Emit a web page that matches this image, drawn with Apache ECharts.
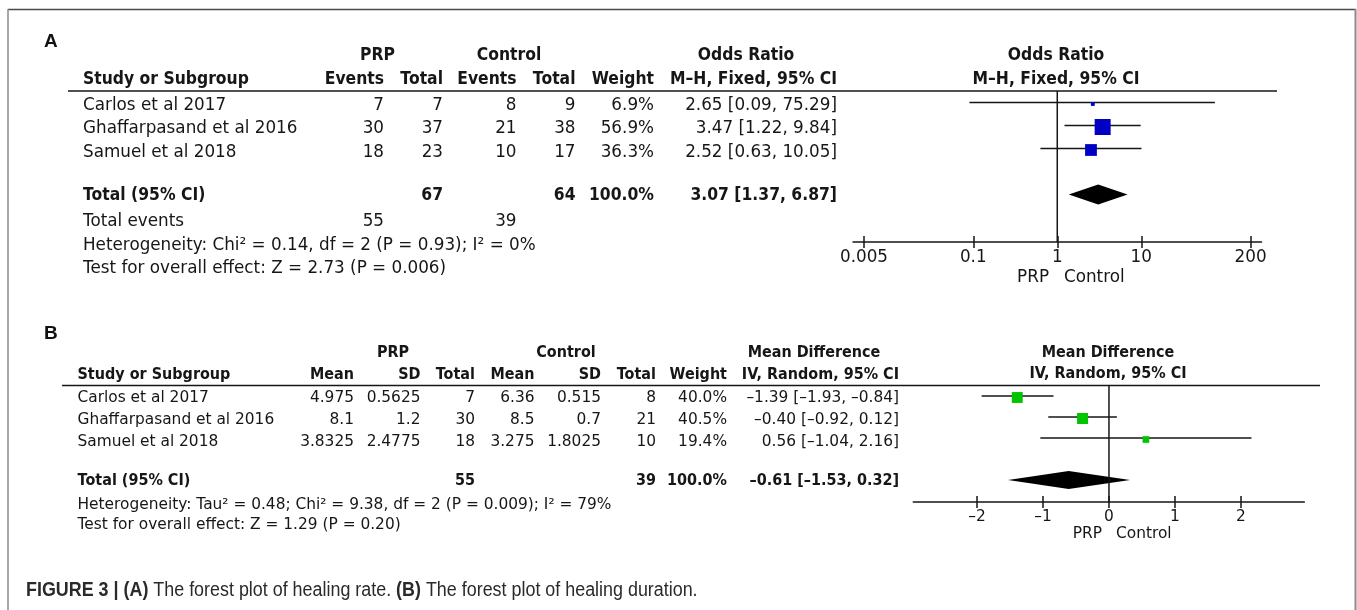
<!DOCTYPE html>
<html><head><meta charset="utf-8">
<script src="https://cdn.jsdelivr.net/npm/echarts@6/dist/echarts.min.js"></script>
<style>html,body{margin:0;padding:0;background:#fff}#c{width:1357px;height:610px}</style>
</head><body><div id="c"></div>
<script>
// ---------- DATA ----------
const studies = ['Carlos et al 2017', 'Ghaffarpasand et al 2016', 'Samuel et al 2018'];

// Panel A: healing rate (odds ratio)
const aPrpEvents = [7, 30, 18];
const aPrpTotal = [7, 37, 23];
const aCtrlEvents = [8, 21, 10];
const aCtrlTotal = [9, 38, 17];
const aWeight = [6.9, 56.9, 36.3];
const aOR = [2.65, 3.47, 2.52];
const aLo = [0.09, 1.22, 0.63];
const aHi = [75.29, 9.84, 10.05];
const aTotalN = [67, 64];
const aTotalEvents = [55, 39];
const aTotalOR = [3.07, 1.37, 6.87];   // estimate, lower, upper
const aTicks = [0.005, 0.1, 1, 10, 200];
const aTickLabels = ['0.005', '0.1', '1', '10', '200'];
const aAxisRange = [0.0037, 270];
const aHet = 'Heterogeneity: Chi² = 0.14, df = 2 (P = 0.93); I² = 0%';
const aTest = 'Test for overall effect: Z = 2.73 (P = 0.006)';

// Panel B: healing duration (mean difference)
const bPrpMean = [4.975, 8.1, 3.8325];
const bPrpSD = [0.5625, 1.2, 2.4775];
const bPrpTotal = [7, 30, 18];
const bCtrlMean = [6.36, 8.5, 3.275];
const bCtrlSD = [0.515, 0.7, 1.8025];
const bCtrlTotal = [8, 21, 10];
const bWeight = [40.0, 40.5, 19.4];
const bMD = [-1.39, -0.40, 0.56];
const bLo = [-1.93, -0.92, -1.04];
const bHi = [-0.84, 0.12, 2.16];
const bTotalN = [55, 39];
const bTotalMD = [-0.61, -1.53, 0.32];
const bTicks = [-2, -1, 0, 1, 2];
const bAxisRange = [-2.965, 2.96];
const bHet = 'Heterogeneity: Tau² = 0.48; Chi² = 9.38, df = 2 (P = 0.009); I² = 79%';
const bTest = 'Test for overall effect: Z = 1.29 (P = 0.20)';

// ---------- HELPERS ----------
const FONT = 'DejaVu Sans';
const INK = '#161616';
const lg = Math.log10;
const dash = s => String(s).replace(/-/g, '–');
const f2 = v => dash(v.toFixed(2));
const ci = (e, l, h) => f2(e) + ' [' + f2(l) + ', ' + f2(h) + ']';
const pct = w => w.toFixed(1) + '%';

const g = [];
let REG = 16.8, BOLD_SX = 0.93;
function t(x, y, text, align, bold) {
  const el = {
    type: 'text', x: x, y: y, silent: true,
    style: {
      text: text, fill: INK, fontFamily: FONT, fontSize: REG,
      fontWeight: bold ? 'bold' : 'normal',
      textAlign: align, textVerticalAlign: 'middle'
    }
  };
  if (bold) el.scaleX = BOLD_SX;
  g.push(el);
}
function hline(x1, x2, y, color, w) {
  g.push({type: 'line', silent: true, shape: {x1: x1, y1: y, x2: x2, y2: y}, style: {stroke: color, lineWidth: w}});
}
function vline(x, y1, y2, color, w) {
  g.push({type: 'line', silent: true, shape: {x1: x, y1: y1, x2: x, y2: y2}, style: {stroke: color, lineWidth: w}});
}
function letter(x, y, s) {
  g.push({type: 'text', x: x, y: y, silent: true, style: {text: s, fill: '#111', fontFamily: 'Liberation Sans', fontSize: 19, fontWeight: 'bold', textAlign: 'left', textVerticalAlign: 'middle'}});
}

// ---------- FRAME ----------
hline(8, 1356, 9.5, '#4a4a4a', 1.5);
vline(8, 9, 612, '#8a8a8a', 1.5);
vline(1355.5, 9, 612, '#8a8a8a', 2);

// ---------- PANEL A TABLE ----------
REG = 16.8; BOLD_SX = 0.93;
letter(44, 42, 'A');
const aCol = {study: 83, pe: 384, pt: 443, ce: 516.5, ct: 575.5, w: 654, ci: 837};
const aRowY = [105.5, 129, 152.5];
t(377.5, 56, 'PRP', 'center', true);
t(509, 56, 'Control', 'center', true);
t(746, 56, 'Odds Ratio', 'center', true);
t(aCol.study, 79.5, 'Study or Subgroup', 'left', true);
t(aCol.pe, 79.5, 'Events', 'right', true);
t(aCol.pt, 79.5, 'Total', 'right', true);
t(aCol.ce, 79.5, 'Events', 'right', true);
t(aCol.ct, 79.5, 'Total', 'right', true);
t(aCol.w, 79.5, 'Weight', 'right', true);
t(aCol.ci, 79.5, 'M–H, Fixed, 95% CI', 'right', true);
hline(68, 1277, 91, INK, 1.5);
studies.forEach((s, i) => {
  const y = aRowY[i];
  t(aCol.study, y, s, 'left');
  t(aCol.pe, y, String(aPrpEvents[i]), 'right');
  t(aCol.pt, y, String(aPrpTotal[i]), 'right');
  t(aCol.ce, y, String(aCtrlEvents[i]), 'right');
  t(aCol.ct, y, String(aCtrlTotal[i]), 'right');
  t(aCol.w, y, pct(aWeight[i]), 'right');
  t(aCol.ci, y, ci(aOR[i], aLo[i], aHi[i]), 'right');
});
t(aCol.study, 196, 'Total (95% CI)', 'left', true);
t(aCol.pt, 196, String(aTotalN[0]), 'right', true);
t(aCol.ct, 196, String(aTotalN[1]), 'right', true);
t(aCol.w, 196, '100.0%', 'right', true);
t(aCol.ci, 196, ci(aTotalOR[0], aTotalOR[1], aTotalOR[2]), 'right', true);
t(aCol.study, 222, 'Total events', 'left');
t(aCol.pe, 222, String(aTotalEvents[0]), 'right');
t(aCol.ce, 222, String(aTotalEvents[1]), 'right');
t(aCol.study, 246, aHet, 'left');
t(aCol.study, 269, aTest, 'left');
t(1056, 55.5, 'Odds Ratio', 'center', true);
t(1056, 79.5, 'M–H, Fixed, 95% CI', 'center', true);
t(1049, 277.5, 'PRP', 'right');
t(1064, 277.5, 'Control', 'left');

// ---------- PANEL B TABLE ----------
REG = 15.4; BOLD_SX = 0.935;
letter(44, 334, 'B');
const bCol = {study: 77.5, pm: 354, ps: 420.5, pt: 475, cm: 534.5, cs: 601, ct: 656, w: 727, ci: 899};
const bRowY = [398, 420, 441.5];
t(393, 353, 'PRP', 'center', true);
t(566, 353, 'Control', 'center', true);
t(814, 353, 'Mean Difference', 'center', true);
t(bCol.study, 375, 'Study or Subgroup', 'left', true);
t(bCol.pm, 375, 'Mean', 'right', true);
t(bCol.ps, 375, 'SD', 'right', true);
t(bCol.pt, 375, 'Total', 'right', true);
t(bCol.cm, 375, 'Mean', 'right', true);
t(bCol.cs, 375, 'SD', 'right', true);
t(bCol.ct, 375, 'Total', 'right', true);
t(bCol.w, 375, 'Weight', 'right', true);
t(bCol.ci, 375, 'IV, Random, 95% CI', 'right', true);
hline(62, 1320, 385.5, INK, 1.5);
studies.forEach((s, i) => {
  const y = bRowY[i];
  t(bCol.study, y, s, 'left');
  t(bCol.pm, y, String(bPrpMean[i]), 'right');
  t(bCol.ps, y, String(bPrpSD[i]), 'right');
  t(bCol.pt, y, String(bPrpTotal[i]), 'right');
  t(bCol.cm, y, String(bCtrlMean[i]), 'right');
  t(bCol.cs, y, String(bCtrlSD[i]), 'right');
  t(bCol.ct, y, String(bCtrlTotal[i]), 'right');
  t(bCol.w, y, pct(bWeight[i]), 'right');
  t(bCol.ci, y, ci(bMD[i], bLo[i], bHi[i]), 'right');
});
t(bCol.study, 481, 'Total (95% CI)', 'left', true);
t(bCol.pt, 481, String(bTotalN[0]), 'right', true);
t(bCol.ct, 481, String(bTotalN[1]), 'right', true);
t(bCol.w, 481, '100.0%', 'right', true);
t(bCol.ci, 481, ci(bTotalMD[0], bTotalMD[1], bTotalMD[2]), 'right', true);
t(bCol.study, 505, bHet, 'left');
t(bCol.study, 525, bTest, 'left');
t(1108, 353, 'Mean Difference', 'center', true);
t(1108, 374, 'IV, Random, 95% CI', 'center', true);
t(1102, 534, 'PRP', 'right');
t(1116, 534, 'Control', 'left');

// ---------- CAPTION ----------
g.push({
  type: 'text', x: 26, y: 590, scaleX: 0.895, silent: true,
  style: {
    text: '{b|FIGURE 3 | (A)} The forest plot of healing rate. {b|(B)} The forest plot of healing duration.',
    fill: '#2a2a2a', fontFamily: 'Liberation Sans', fontSize: 20,
    textAlign: 'left', textVerticalAlign: 'middle',
    rich: {b: {fontWeight: 'bold', fontFamily: 'Liberation Sans', fontSize: 20, fill: '#2a2a2a'}}
  }
});

// ---------- CHART (forest plots) ----------
const aYMax = 151 / 23, bYMax = 116.5 / 21;
const sizeFor = (w, wMax, sMax) => sMax * Math.pow(w / wMax, 0.68);
const aWMax = Math.max.apply(null, aWeight), bWMax = Math.max.apply(null, bWeight);

function ciSeries(xi, yi, data) {
  return {
    type: 'custom', xAxisIndex: xi, yAxisIndex: yi, silent: true,
    dimensions: ['lo', 'hi', 'y'], encode: {x: [0, 1], y: 2},
    data: data,
    renderItem: (p, api) => {
      const a = api.coord([api.value(0), api.value(2)]);
      const b = api.coord([api.value(1), api.value(2)]);
      return {type: 'line', shape: {x1: a[0], y1: a[1], x2: b[0], y2: b[1]}, style: {stroke: INK, lineWidth: 1.5}};
    }
  };
}
function diamondSeries(xi, yi, data, h) {
  return {
    type: 'custom', xAxisIndex: xi, yAxisIndex: yi, silent: true,
    dimensions: ['lo', 'est', 'hi', 'y'], encode: {x: [0, 1, 2], y: 3},
    data: data,
    renderItem: (p, api) => {
      const l = api.coord([api.value(0), api.value(3)]);
      const m = api.coord([api.value(1), api.value(3)]);
      const r = api.coord([api.value(2), api.value(3)]);
      return {type: 'polygon', shape: {points: [[l[0], l[1]], [m[0], m[1] - h], [r[0], r[1]], [m[0], m[1] + h]]}, style: {fill: '#000'}};
    }
  };
}
function mainX(grid, min, max, ticks, fmt, size, margin) {
  return {
    type: 'value', gridIndex: grid, min: min, max: max, position: 'bottom', splitLine: {show: false},
    axisLine: {show: true, onZero: false, lineStyle: {color: INK, width: 1.5}},
    axisTick: {show: true, length: 6, customValues: ticks, lineStyle: {color: INK, width: 1.5}},
    axisLabel: {show: true, customValues: ticks, formatter: fmt, fontFamily: FONT, fontSize: size, color: INK, margin: margin}
  };
}
function innerX(grid, min, max, ticks) {
  return {
    type: 'value', gridIndex: grid, min: min, max: max, position: 'bottom', splitLine: {show: false},
    axisLine: {show: false, onZero: false},
    axisTick: {show: true, inside: true, length: 6, customValues: ticks, lineStyle: {color: INK, width: 1.5}},
    axisLabel: {show: false}
  };
}
const hiddenY = (grid, max) => ({type: 'value', gridIndex: grid, inverse: true, min: 0, max: max, show: false});

const aTickPos = aTicks.map(lg);
const aFmt = v => {
  for (let i = 0; i < aTickPos.length; i++) if (Math.abs(aTickPos[i] - v) < 1e-6) return aTickLabels[i];
  return '';
};
const bFmt = v => dash(String(v));

const gridA = {left: 853, top: 91, width: 408.5, height: 151};
const gridB = {left: 913.3, top: 385.5, width: 391, height: 116.5};

const option = {
  animation: false,
  backgroundColor: '#fff',
  grid: [gridA, gridB, Object.assign({}, gridA), Object.assign({}, gridB)],
  xAxis: [
    mainX(0, lg(aAxisRange[0]), lg(aAxisRange[1]), aTickPos, aFmt, 16.8, 7),
    mainX(1, bAxisRange[0], bAxisRange[1], bTicks, bFmt, 15.4, 7),
    innerX(2, lg(aAxisRange[0]), lg(aAxisRange[1]), aTickPos),
    innerX(3, bAxisRange[0], bAxisRange[1], bTicks)
  ],
  yAxis: [hiddenY(0, aYMax), hiddenY(1, bYMax), hiddenY(2, aYMax), hiddenY(3, bYMax)],
  series: [
    // Panel A
    {type: 'line', xAxisIndex: 0, yAxisIndex: 0, silent: true, symbol: 'none',
     data: [[lg(1), 0], [lg(1), aYMax]], lineStyle: {color: INK, width: 1.5}},
    ciSeries(0, 0, studies.map((s, i) => [lg(aLo[i]), lg(aHi[i]), i + 0.5])),
    {type: 'scatter', xAxisIndex: 0, yAxisIndex: 0, silent: true, symbol: 'rect',
     symbolOffset: [0, 1.5],
     data: studies.map((s, i) => [lg(aOR[i]), i + 0.5, aWeight[i]]),
     symbolSize: v => sizeFor(v[2], aWMax, 16),
     itemStyle: {color: '#0000c4', opacity: 1}},
    diamondSeries(0, 0, [[lg(aTotalOR[1]), lg(aTotalOR[0]), lg(aTotalOR[2]), 4.5]], 10),
    // Panel B
    {type: 'line', xAxisIndex: 1, yAxisIndex: 1, silent: true, symbol: 'none',
     data: [[0, 0], [0, bYMax]], lineStyle: {color: INK, width: 1.5}},
    ciSeries(1, 1, studies.map((s, i) => [bLo[i], bHi[i], i + 0.5])),
    {type: 'scatter', xAxisIndex: 1, yAxisIndex: 1, silent: true, symbol: 'rect',
     symbolOffset: [0, 1.5],
     data: studies.map((s, i) => [bMD[i], i + 0.5, bWeight[i]]),
     symbolSize: v => sizeFor(v[2], bWMax, 11),
     itemStyle: {color: '#00c400', opacity: 1}},
    diamondSeries(1, 1, [[bTotalMD[1], bTotalMD[0], bTotalMD[2], 4.5]], 9)
  ],
  graphic: {elements: g}
};

const chart = echarts.init(document.getElementById('c'), null, {renderer: 'canvas'});
chart.setOption(option);
</script>
</body></html>
